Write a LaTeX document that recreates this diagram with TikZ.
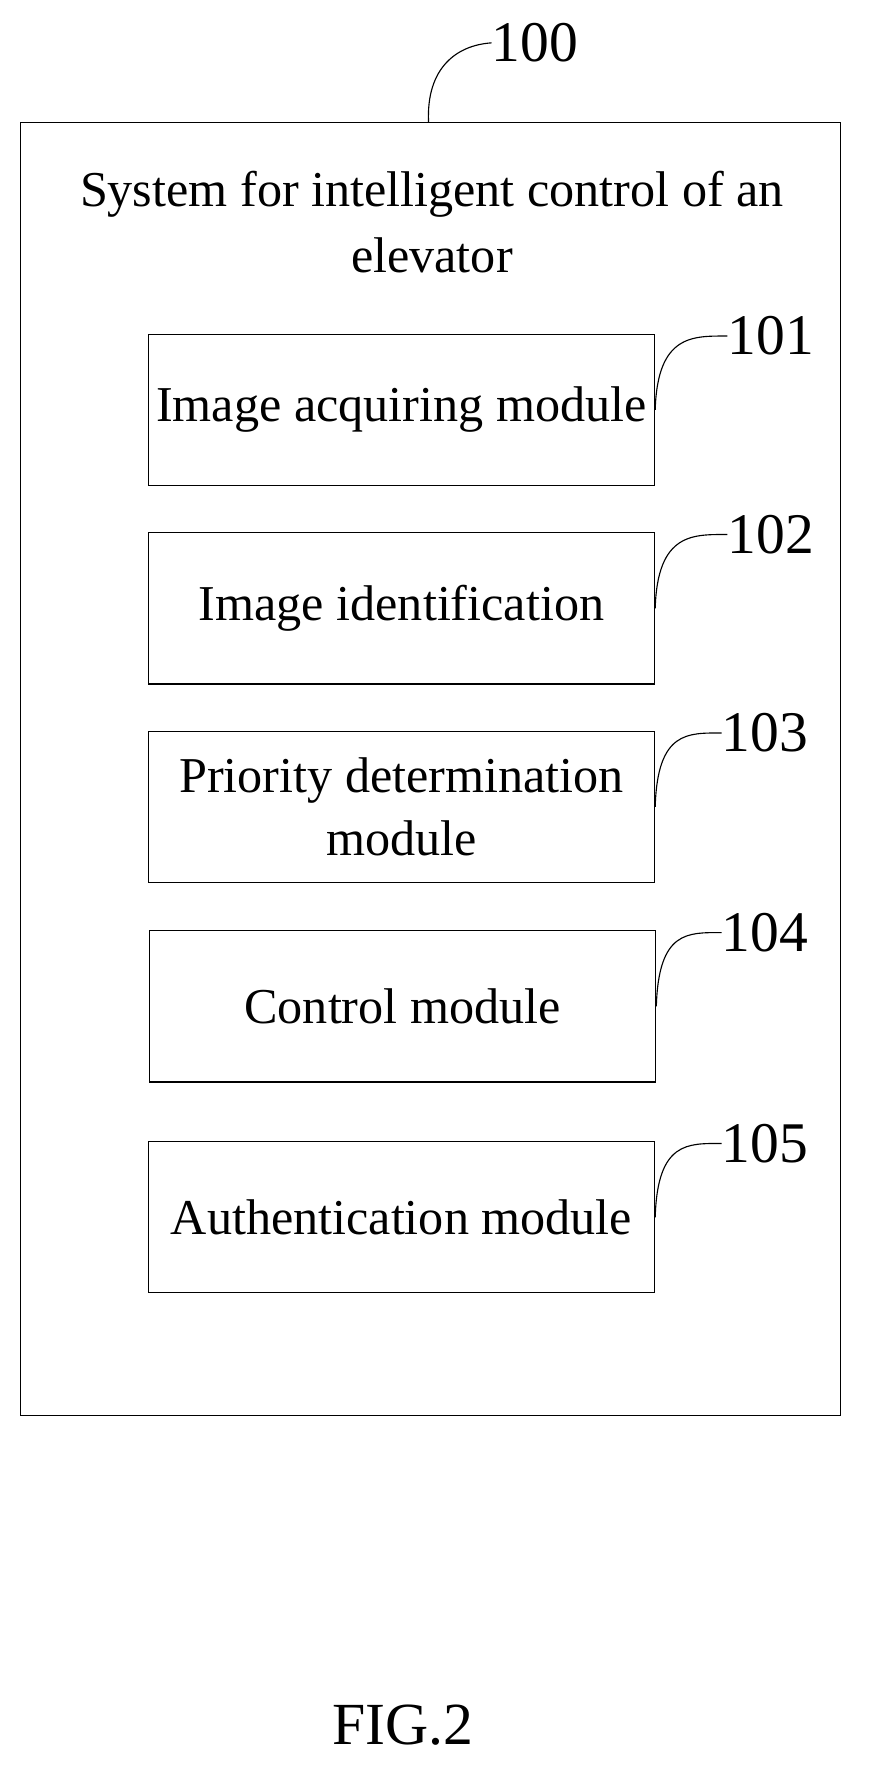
\documentclass[tikz,border=0pt]{standalone}
\usepackage{fontspec}
\setmainfont{Liberation Serif}
\begin{document}
\begin{tikzpicture}[x=1pt,y=-1pt,
  mod/.style={draw,line width=1pt,minimum width=449pt,minimum height=134pt,anchor=north west,inner sep=0pt,align=center,font=\fontsize{44.5}{56}\selectfont},
  lbl/.style={font=\fontsize{51}{54}\selectfont,anchor=west,inner sep=0pt},
  lead/.style={line width=1pt}]
\useasboundingbox (0,0) rectangle (770,1582);
\node[draw,line width=1pt,minimum width=727pt,minimum height=1147pt,anchor=north west,inner sep=0pt] (sys) at (18,108) {};
\node[align=center,font=\fontsize{44.5}{58}\selectfont] (title) at (383,197) {System for intelligent control of an\\elevator};
\node[mod] (m1) at (131,296) {Image acquiring module};
\node[mod] (m2) at (131,472) {Image identification};
\node[mod] (m3) at (131,648) {Priority determination\\module};
\node[mod] (m4) at (132,825) {Control module};
\node[mod] (m5) at (131,1012) {Authentication module};
\node[lbl] (l0) at (436,38) {100};
\node[lbl] (l1) at (645,298) {101};
\node[lbl] (l2) at (645,474) {102};
\node[lbl] (l3) at (640,650) {103};
\node[lbl] (l4) at (640,827) {104};
\node[lbl] (l5) at (640,1014) {105};
\coordinate (c0) at (380,108);
\draw[lead] (c0) .. controls (378,60) and (405,40) .. (l0.west);
\foreach \i in {1,...,5}{
  \draw[lead] (m\i.east) .. controls ([xshift=2pt]m\i.north east) and ([xshift=-30pt]l\i.west) .. (l\i.west);
}
\node[font=\fontsize{53}{56}\selectfont] (fig) at (357,1530) {FIG.2};
\end{tikzpicture}
\end{document}
